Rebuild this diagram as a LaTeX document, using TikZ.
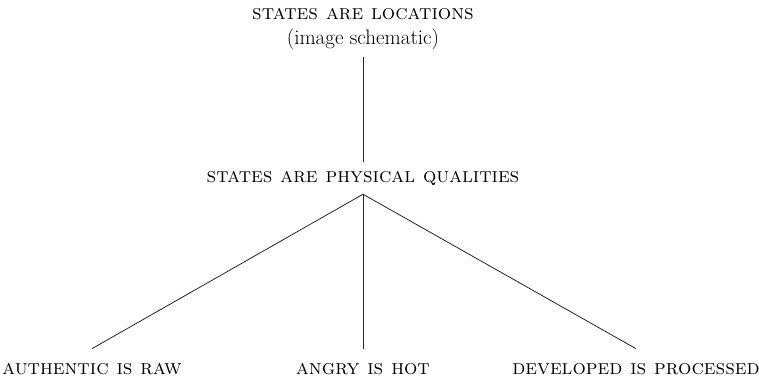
\documentclass[tikz,border=0pt]{standalone}
\usepackage{tikz}

\begin{document}
\begin{tikzpicture}[
  x=1pt, y=1pt,
  concept/.style={font=\fontsize{21}{25}\selectfont\scshape, inner xsep=0pt, inner ysep=9pt},
  note/.style={font=\fontsize{21}{25}\selectfont, inner xsep=0pt, inner ysep=7pt},
  leaf/.style={font=\fontsize{21}{25}\selectfont\scshape, inner xsep=0pt, inner ysep=14pt},
  link/.style={line width=0.8pt, draw=black!85}
]
\useasboundingbox (0,0) rectangle (759,381);

\node[concept, anchor=base] (loc) at (363,361) {states are locations};
\node[note, anchor=base] (schem) at (363,336) {(image schematic)};
\node[concept, anchor=base] (phys) at (363,199) {states are physical qualities};

\node[leaf, anchor=base] (raw) at (92,7) {authentic is raw};
\node[leaf, anchor=base] (hot) at (363,7) {angry is hot};
\node[leaf, anchor=base] (proc) at (636,7) {developed is processed};

\draw[link] (schem) -- (phys);
\draw[link] (phys.south) -- (raw.north);
\draw[link] (phys.south) -- (hot.north);
\draw[link] (phys.south) -- (proc.north);
\end{tikzpicture}
\end{document}
